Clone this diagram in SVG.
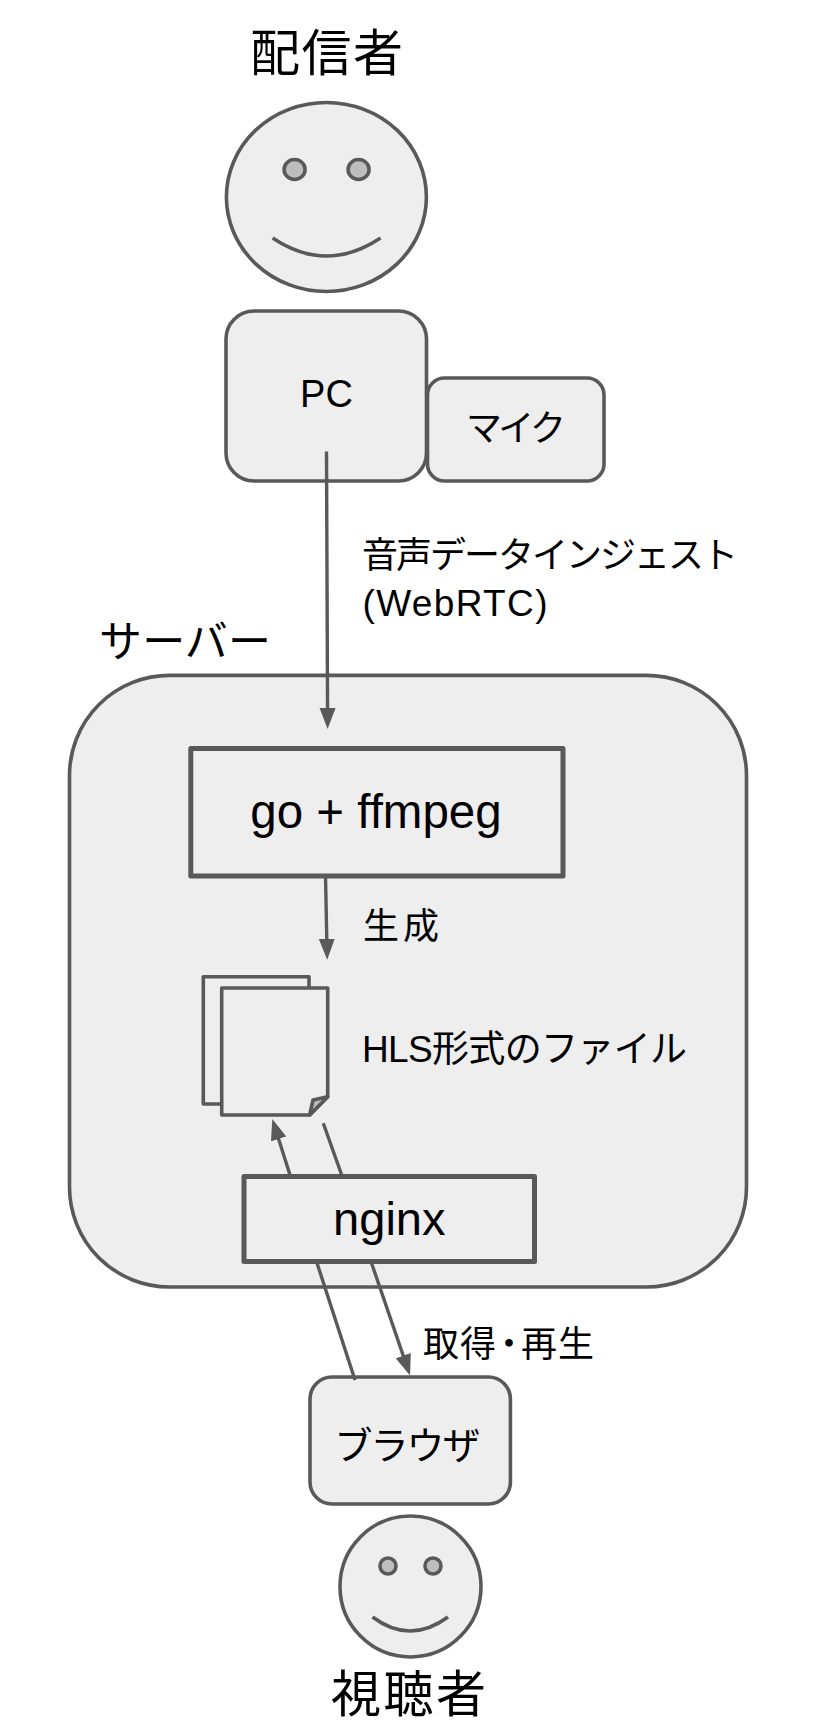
<svg xmlns="http://www.w3.org/2000/svg" width="838" height="1732" viewBox="0 0 838 1732">
<style>
.s{fill:#eeeeee;stroke:#595959;stroke-width:3.6;stroke-linejoin:round}
.b{stroke-width:5}
.e{fill:#bebebe;stroke:#595959;stroke-width:3.6}
.m{fill:none;stroke:#595959;stroke-width:3.6}
.c{fill:none;stroke:#595959;stroke-width:3.4}
text{font-family:"Liberation Sans","Noto Sans CJK JP",sans-serif;fill:#000}
.t{font-size:36px}
.a{text-anchor:middle}
</style>
<defs>
<marker id="arrow" markerUnits="userSpaceOnUse" markerWidth="24" markerHeight="18" refX="11" refY="8" orient="auto"><path d="M0,0L21,8L0,16Z" fill="#595959"/></marker>
</defs>
<rect width="838" height="1732" fill="#fff"/>
<g id="presenter">
<ellipse class="s" cx="326.4" cy="197" rx="100" ry="94.5"/>
<ellipse class="e" cx="294.6" cy="169.5" rx="10.5" ry="10"/>
<ellipse class="e" cx="358.6" cy="169.5" rx="10.5" ry="10"/>
<path class="m" d="M272.6,238Q326.5,274 380.5,238"/>
<text id="presenter-label" x="326.5" y="70.5" font-size="50" class="a" textLength="153">配信者</text>
</g>
<g id="pc"><rect class="s" x="226" y="311" width="200.5" height="170" rx="28"/>
<text x="326.5" y="407" class="a" font-size="38">PC</text></g>
<g id="mic"><rect class="s" x="427.5" y="378" width="176.5" height="103" rx="17"/>
<text x="516" y="441" class="t a" textLength="100">マイク</text></g>
<g id="server"><rect class="s" x="69.5" y="675.4" width="677" height="611.6" rx="100"/>
<text x="99" y="657" font-size="43" textLength="172">サーバー</text></g>
<g id="ffmpeg"><rect class="s b" x="190.8" y="748.5" width="372.2" height="127.5"/>
<text x="376" y="827.7" font-size="47.5" class="a">go + ffmpeg</text></g>
<g id="files">
<rect class="s" x="203.3" y="976.7" width="105.7" height="127.3"/>
<path class="s" d="M221.7,988H327.7V1096.7L309.7,1115H221.7Z"/>
<path class="s" d="M327.7,1096.7L313,1100L309.7,1115Z" style="fill:#bebebe"/>
<text x="362" y="1062" style="font-size:37px" textLength="325">HLS形式のファイル</text>
</g>
<g id="nginx"><rect class="s b" x="244" y="1176.4" width="290.5" height="85"/>
<text x="389.3" y="1235" font-size="47" class="a">nginx</text></g>
<g id="browser"><rect class="s" x="310" y="1377" width="200.4" height="127" rx="22"/>
<text x="407.5" y="1459" style="font-size:38px" class="a" textLength="146">ブラウザ</text></g>
<g id="viewer">
<ellipse class="s" cx="410.5" cy="1586.5" rx="70.5" ry="70.5"/>
<ellipse class="e" cx="388" cy="1566" rx="8" ry="8"/>
<ellipse class="e" cx="433" cy="1566" rx="8" ry="8"/>
<path class="m" d="M372.5,1617Q410,1645 448,1617"/>
<text id="viewer-label" x="408.5" y="1712" font-size="50" class="a" textLength="155">視聴者</text>
</g>
<g id="connectors">
<path class="c" marker-end="url(#arrow)" d="M326.5,451.6L327.6,719"/>
<path class="c" marker-end="url(#arrow)" d="M325.5,876L327,949.7"/>
<path class="c" marker-end="url(#arrow)" d="M290,1175L275.3,1128.5"/>
<path class="c" d="M323.3,1123.3L341.7,1175"/>
<path class="c" d="M317,1263L355,1380"/>
<path class="c" marker-end="url(#arrow)" d="M371.5,1263L406.8,1366"/>
</g>
<g id="labels">
<text x="362" y="568" class="t" textLength="376">音声データインジェスト</text>
<text x="362.5" y="616" style="font-size:37px" textLength="185">(WebRTC)</text>
<text x="363" y="939" class="t" textLength="76">生成</text>
<text x="423 460 491 521 558" y="1357" class="t">取得・再生</text>
</g>
</svg>
